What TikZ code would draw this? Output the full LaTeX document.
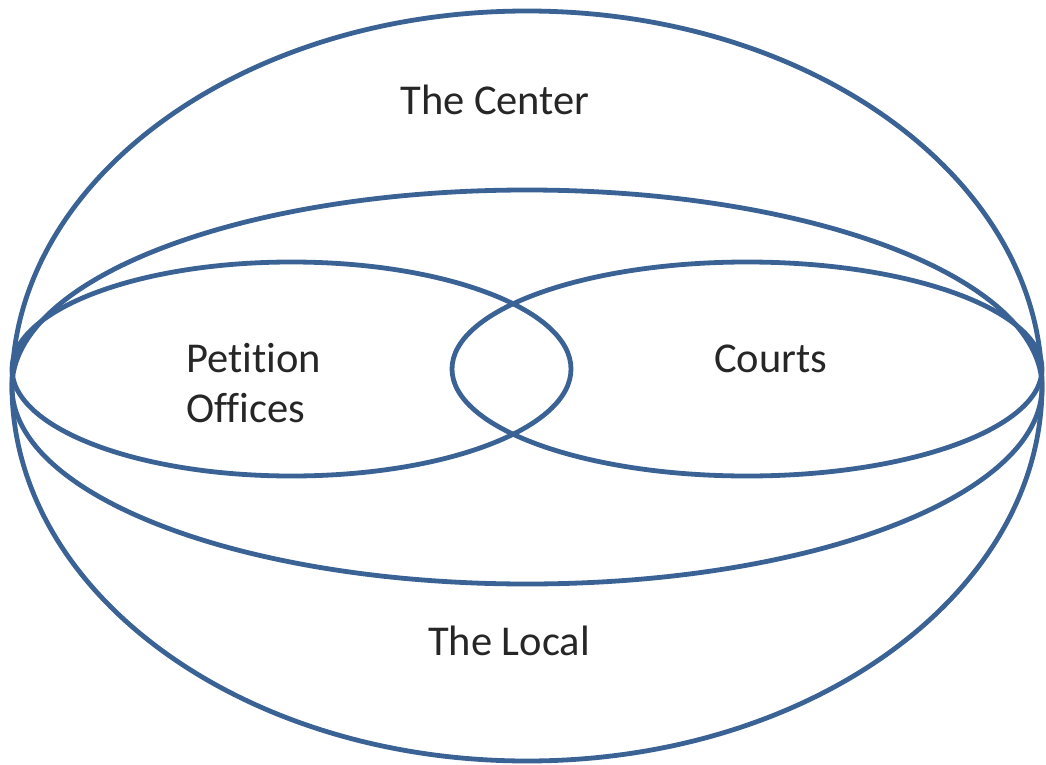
\documentclass[tikz,border=0pt]{standalone}
\usepackage{fontspec}
\setmainfont[Ligatures=NoCommon]{Carlito}
\definecolor{ringblue}{RGB}{58,98,148}
\tikzset{
  ring/.style={draw=ringblue, line width=4.8pt},
  label/.style={inner sep=0pt, font=\fontsize{42.5}{50}\selectfont, text=black!85}
}
\begin{document}
\begin{tikzpicture}[x=1pt, y=-1pt]
\useasboundingbox (0,0) rectangle (1046,765);
% outer ellipse
\draw[ring] (527,386) ellipse [x radius=515, y radius=375];
% middle ellipse
\draw[ring] (527,387) ellipse [x radius=515, y radius=197];
% left and right ellipses
\draw[ring] (291.5,369) ellipse [x radius=279.5, y radius=107];
\draw[ring] (747,369) ellipse [x radius=295, y radius=107];
% labels
\node[label, anchor=base] (center) at (495,115) {The Center};
\node[label, anchor=base west] (petition) at (186,372) {Petition};
\node[label, anchor=base west] (offices) at (186,422) {Offices};
\node[label, anchor=base west] (courts) at (714,372) {Courts};
\node[label, anchor=base] (local) at (509,655) {The Local};
\end{tikzpicture}
\end{document}
